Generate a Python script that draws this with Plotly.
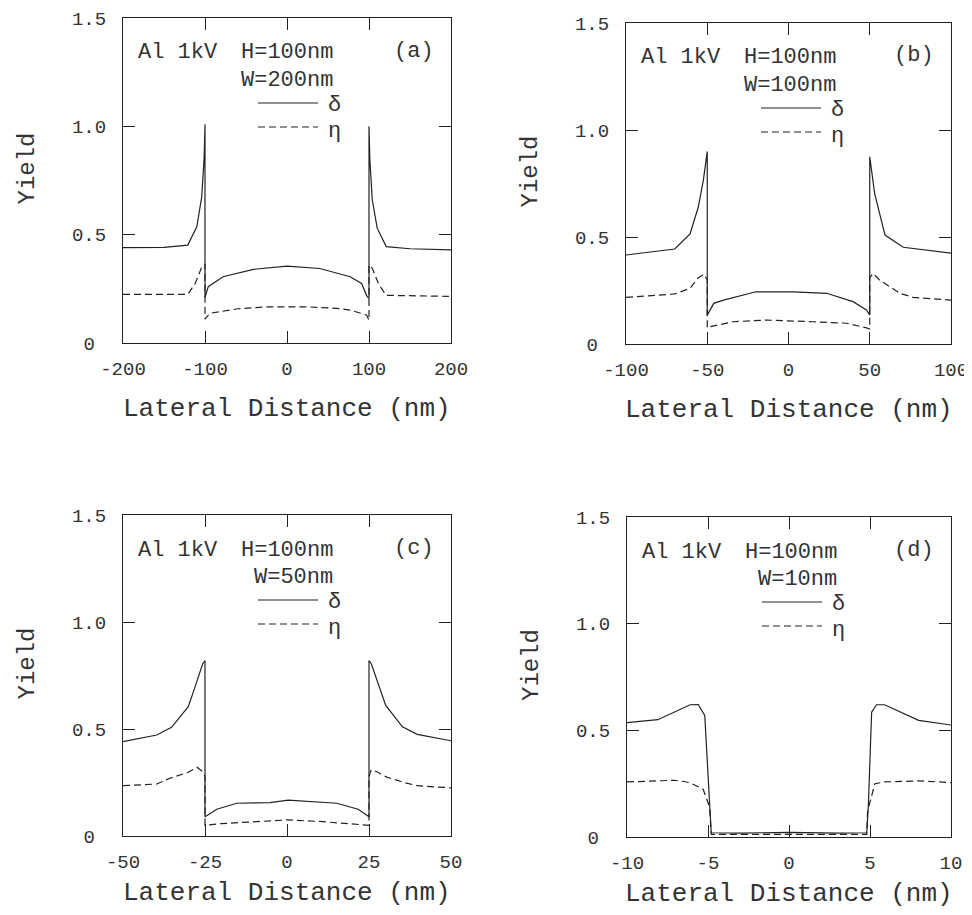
import plotly.graph_objects as go

# ---------------- data ----------------
# (a) W = 200 nm
a_x_delta = [-200, -150, -121, -110, -104, -101, -100, -100, -96, -78, -41, 0, 40, 77, 91, 97, 100, 100, 101, 104, 110, 121, 150, 200]
a_y_delta = [0.440, 0.441, 0.452, 0.536, 0.674, 0.860, 1.010, 0.210, 0.260, 0.306, 0.340, 0.355, 0.344, 0.306, 0.275, 0.220, 0.205, 1.000, 0.850, 0.660, 0.530, 0.445, 0.435, 0.430]
a_x_eta = [-200, -121, -112, -104, -100, -100, -94, -60, -25, 24, 60, 77, 97, 100, 100, 104, 112, 121, 200]
a_y_eta = [0.224, 0.224, 0.275, 0.350, 0.365, 0.110, 0.137, 0.158, 0.167, 0.167, 0.160, 0.152, 0.129, 0.105, 0.360, 0.345, 0.270, 0.220, 0.215]

# (b) W = 100 nm
b_x_delta = [-100, -70, -60.6, -55.5, -52.4, -50, -50, -46, -40, -20, 3, 23.5, 39.7, 48, 50, 50, 53, 59.4, 70.6, 100]
b_y_delta = [0.416, 0.444, 0.514, 0.640, 0.766, 0.899, 0.135, 0.190, 0.205, 0.244, 0.244, 0.237, 0.198, 0.159, 0.135, 0.875, 0.704, 0.509, 0.452, 0.425]
b_x_eta = [-100, -70, -60.6, -55.5, -52, -50, -50, -48, -34, -13.5, 15, 35.8, 48, 50, 50, 52, 56, 68.6, 76.6, 100]
b_y_eta = [0.218, 0.234, 0.260, 0.310, 0.325, 0.300, 0.075, 0.081, 0.104, 0.112, 0.104, 0.097, 0.075, 0.070, 0.310, 0.330, 0.299, 0.237, 0.218, 0.205]

# (c) W = 50 nm
c_x_delta = [-50, -39.7, -35.2, -30.1, -28, -25.7, -25, -25, -21.4, -15.3, -5.2, 0.4, 15.2, 21.7, 25, 25, 25.7, 28, 30.1, 35.2, 39.7, 50]
c_y_delta = [0.441, 0.472, 0.508, 0.604, 0.698, 0.805, 0.820, 0.090, 0.125, 0.153, 0.156, 0.168, 0.153, 0.125, 0.090, 0.820, 0.805, 0.700, 0.610, 0.510, 0.475, 0.445]
c_x_eta = [-50, -39.7, -35.7, -30.4, -27.4, -25.7, -25, -25, -20, -10, 0, 10, 20, 25, 25, 25.7, 27.4, 30.4, 35.7, 39.7, 50]
c_y_eta = [0.235, 0.243, 0.270, 0.296, 0.321, 0.300, 0.280, 0.050, 0.058, 0.068, 0.075, 0.068, 0.058, 0.050, 0.280, 0.310, 0.300, 0.275, 0.250, 0.235, 0.225]

# (d) W = 10 nm
d_x_delta = [-10, -8.1, -6.1, -5.6, -5.2, -4.9, -4.8, -3, 0, 3, 4.8, 4.9, 5.1, 5.4, 5.9, 8, 10]
d_y_delta = [0.536, 0.550, 0.620, 0.621, 0.570, 0.150, 0.020, 0.018, 0.022, 0.018, 0.020, 0.150, 0.585, 0.620, 0.620, 0.547, 0.525]
d_x_eta = [-10, -7.1, -6.5, -6.1, -5.3, -4.9, -4.8, -3, 0, 3, 4.8, 4.85, 5.3, 5.9, 8, 10]
d_y_eta = [0.258, 0.266, 0.260, 0.254, 0.224, 0.140, 0.012, 0.012, 0.015, 0.012, 0.012, 0.120, 0.250, 0.258, 0.263, 0.255]

# ticks and labels
x_ticks = [[-200, -100, 0, 100, 200], [-100, -50, 0, 50, 100], [-50, -25, 0, 25, 50], [-10, -5, 0, 5, 10]]
x_ticklabels = [["-200", "-100", "0", "100", "200"], ["-100", "-50", "0", "50", "100"],
                ["-50", "-25", "0", "25", "50"], ["-10", "-5", "0", "5", "10"]]
x_ranges = [[-200, 200], [-100, 100], [-50, 50], [-10, 10]]
y_ticks = [0, 0.5, 1.0, 1.5]
y_ticklabels = ["0\u00a0", "0.5", "1.0", "1.5"]
panel_labels = ["(a)", "(b)", "(c)", "(d)"]
width_labels = ["W=200nm", "W=100nm", "W=50nm", "W=10nm"]
header_left = "Al 1kV"
header_right = "H=100nm"
delta_label = "δ"
eta_label = "η"
x_title = "Lateral Distance (nm)"
y_title = "Yield"

series = [
    (a_x_delta, a_y_delta, a_x_eta, a_y_eta),
    (b_x_delta, b_y_delta, b_x_eta, b_y_eta),
    (c_x_delta, c_y_delta, c_x_eta, c_y_eta),
    (d_x_delta, d_y_delta, d_x_eta, d_y_eta),
]

# ---------------- layout geometry (screen pixels) ----------------
OFF = 8                      # page body margin
W, H = 964, 907              # figure size
boxes = [(123, 18, 451, 343), (626, 23, 951, 344), (123, 515, 451, 836), (627, 517, 951, 837)]
xtitle_gap = [66, 66, 57, 57]
INK = "#222222"
TXT = "#333333"
FONT = "Liberation Mono"


def px(x):
    return (x - OFF) / W


def py(y):
    return 1 - (y - OFF) / H


fig = go.Figure()
layout = dict(
    width=W, height=H, margin=dict(l=0, r=0, t=0, b=0, autoexpand=False),
    paper_bgcolor="white", plot_bgcolor="white", showlegend=False,
    font=dict(family=FONT, color=TXT),
)
annotations = []
shapes = []

for i, (box, (xd, yd, xe, ye)) in enumerate(zip(boxes, series)):
    n = "" if i == 0 else str(i + 1)
    l, t, r, b = box
    xa, ya = "x" + n, "y" + n
    fig.add_trace(go.Scatter(x=xd, y=yd, mode="lines", xaxis=xa, yaxis=ya,
                             line=dict(color=INK, width=1.2)))
    fig.add_trace(go.Scatter(x=xe, y=ye, mode="lines", xaxis=xa, yaxis=ya,
                             line=dict(color=INK, width=1.2, dash="7px,4px")))
    common = dict(showline=True, linecolor=INK, linewidth=1, mirror="ticks",
                  ticks="inside", ticklen=12, tickcolor=INK, tickwidth=1,
                  showgrid=False, zeroline=False, automargin=False,
                  tickfont=dict(family=FONT, size=19, color=TXT))
    layout["xaxis" + n] = dict(common, domain=[px(l), px(r)], anchor=ya,
                               range=x_ranges[i], tickmode="array",
                               tickvals=x_ticks[i], ticktext=x_ticklabels[i],
                               ticklabelstandoff=8)
    layout["yaxis" + n] = dict(common, domain=[py(b), py(t)], anchor=xa,
                               range=[0, 1.5], tickmode="array",
                               tickvals=y_ticks, ticktext=y_ticklabels,
                               ticklabelstandoff=12)

    def ann(text, x, y, xanchor="left", size=22, angle=0):
        annotations.append(dict(text=text, x=px(x), y=py(y), xref="paper", yref="paper",
                                xanchor=xanchor, yanchor="middle", showarrow=False,
                                textangle=angle,
                                font=dict(family=FONT, size=size, color=TXT)))

    ann(header_left, l + 13, t + 35)
    ann(header_right, l + 212, t + 35, xanchor="right")
    ann(width_labels[i], l + 212, t + 62, xanchor="right")
    ann(panel_labels[i], r - 37, t + 33, xanchor="center")
    ann(delta_label, l + 203, t + 87)
    ann(eta_label, l + 203, t + 113)
    ann(x_title, (l + r) / 2, b + xtitle_gap[i], xanchor="center", size=26)
    ann(y_title, l - 96, (t + b) / 2 - 12, xanchor="center", size=24, angle=-90)

    shapes.append(dict(type="line", xref="paper", yref="paper",
                       x0=px(l + 135), x1=px(l + 195), y0=py(t + 85), y1=py(t + 85),
                       line=dict(color=INK, width=1.2)))
    shapes.append(dict(type="line", xref="paper", yref="paper",
                       x0=px(l + 135), x1=px(l + 195), y0=py(t + 109), y1=py(t + 109),
                       line=dict(color=INK, width=1.2, dash="7px,4px")))

layout["annotations"] = annotations
layout["shapes"] = shapes
fig.update_layout(**layout)
fig.write_html("out.html")
